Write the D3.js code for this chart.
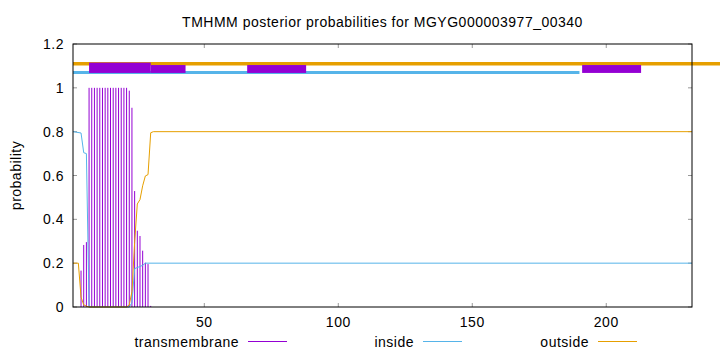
<!DOCTYPE html>
<html>
<head>
<meta charset="utf-8">
<script src="https://cdn.jsdelivr.net/npm/d3@7"></script>
<style>
  body { margin: 0; background: #fff; }
  svg text { font-family: "Liberation Sans", Arial, sans-serif; font-size: 14px; letter-spacing: 0.5px; fill: #000; }
</style>
</head>
<body>
<svg id="chart"></svg>
<script>
// Data
const title = 'TMHMM posterior probabilities for MGYG000003977_00340';
const seqLength = 232;
const xTicks = [50, 100, 150, 200];
const yTicks = [0, 0.2, 0.4, 0.6, 0.8, 1, 1.2];

// transmembrane posterior per residue (residues 1..30, rest are 0)
const tmResidues = [1, 2, 3, 4, 5, 6, 7, 8, 9, 10, 11, 12, 13, 14, 15, 16, 17, 18, 19, 20, 21, 22, 23, 24, 25, 26, 27, 28, 29, 30];
const tmValues = [0, 0, 0, 0.166, 0.283, 0.296, 1, 1, 1, 1, 1, 1, 1, 1, 1, 1, 1, 1, 1, 1, 1, 0.987, 0.909, 0.529, 0.348, 0.324, 0.257, 0.202, 0.196, 0.005];

// inside / outside curves as [residue, probability]
const insidePoints = [[1, 0.8], [4, 0.794], [5, 0.704], [6, 0.7], [7, 0], [22, 0], [23, 0.02], [24, 0.175], [25, 0.18], [26, 0.185], [27, 0.19], [28, 0.2], [232, 0.2]];
const outsidePoints = [[1, 0.2], [3, 0.2], [4, 0.045], [5, 0.01], [6, 0.004], [7, 0], [21, 0], [22, 0.01], [23, 0.07], [24, 0.295], [25, 0.47], [26, 0.49], [27, 0.553], [28, 0.598], [29, 0.604], [30, 0.795], [31, 0.8], [232, 0.8]];

// predicted topology bars at the top
const outsideBar = { from: 1, to: 232, y: 1.11 };
const insideBar = { from: 1, to: 190, y: 1.07 };
const tmBoxes = [
  { from: 7, to: 30, y0: 1.068, y1: 1.115 },
  { from: 30, to: 43, y0: 1.068, y1: 1.104 },
  { from: 66, to: 88, y0: 1.068, y1: 1.104 },
  { from: 191, to: 213, y0: 1.068, y1: 1.104 }
];

const legendItems = ['transmembrane', 'inside', 'outside'];
const colors = { transmembrane: '#9400D3', inside: '#56B4E9', outside: '#E69F00' };

const width = 720, height = 352;
const margin = { top: 44, right: 28, bottom: 45, left: 73 };
const innerW = width - margin.left - margin.right;
const innerH = height - margin.top - margin.bottom;

const xScale = d3.scaleLinear().domain([1, seqLength]).range([0, innerW]);
const yScale = d3.scaleLinear().domain([0, 1.2]).range([innerH, 0]);

const svg = d3.select('svg#chart')
    .attr('width', width)
    .attr('height', height);

const g = svg.append('g')
    .attr('transform', `translate(${margin.left}, ${margin.top})`);

// ticks drawn inward on all four sides
const tickLen = 4;
xTicks.forEach(t => {
  const x = xScale(t);
  g.append('line').attr('x1', x).attr('x2', x).attr('y1', innerH).attr('y2', innerH - tickLen)
    .attr('stroke', '#999');
  g.append('line').attr('x1', x).attr('x2', x).attr('y1', 0).attr('y2', tickLen)
    .attr('stroke', '#999');
  g.append('text').attr('x', x).attr('y', innerH + 20).attr('text-anchor', 'middle').text(t);
});
yTicks.forEach(t => {
  const y = yScale(t);
  g.append('line').attr('x1', 0).attr('x2', tickLen).attr('y1', y).attr('y2', y)
    .attr('stroke', '#999');
  g.append('line').attr('x1', innerW).attr('x2', innerW - tickLen).attr('y1', y).attr('y2', y)
    .attr('stroke', '#999');
  g.append('text').attr('x', -9).attr('y', y + 5).attr('text-anchor', 'end').text(t);
});

// transmembrane impulses
g.selectAll('line.tm')
    .data(tmResidues.map((r, i) => [r, tmValues[i]]).filter(d => d[1] > 0))
    .enter()
    .append('line')
    .attr('class', 'tm')
    .attr('x1', d => xScale(d[0]))
    .attr('x2', d => xScale(d[0]))
    .attr('y1', yScale(0))
    .attr('y2', d => yScale(d[1]))
    .attr('stroke', colors.transmembrane)
    .attr('stroke-width', 1);

const line = d3.line().x(d => xScale(d[0])).y(d => yScale(d[1]));

g.append('path').datum(insidePoints)
    .attr('d', line).attr('fill', 'none')
    .attr('stroke', colors.inside).attr('stroke-width', 1);

g.append('path').datum(outsidePoints)
    .attr('d', line).attr('fill', 'none')
    .attr('stroke', colors.outside).attr('stroke-width', 1);

// topology bars (outside bar runs past the right border like in gnuplot)
g.append('line')
    .attr('x1', xScale(outsideBar.from)).attr('x2', width - margin.left)
    .attr('y1', yScale(outsideBar.y)).attr('y2', yScale(outsideBar.y))
    .attr('stroke', colors.outside).attr('stroke-width', 3.5);

g.append('line')
    .attr('x1', xScale(insideBar.from)).attr('x2', xScale(insideBar.to))
    .attr('y1', yScale(insideBar.y)).attr('y2', yScale(insideBar.y))
    .attr('stroke', colors.inside).attr('stroke-width', 3);

g.selectAll('rect.tmbox')
    .data(tmBoxes)
    .enter()
    .append('rect')
    .attr('class', 'tmbox')
    .attr('x', d => xScale(d.from))
    .attr('y', d => yScale(d.y1))
    .attr('width', d => xScale(d.to) - xScale(d.from))
    .attr('height', d => yScale(d.y0) - yScale(d.y1))
    .attr('fill', colors.transmembrane);

// border
g.append('rect')
    .attr('x', 0).attr('y', 0)
    .attr('width', innerW).attr('height', innerH)
    .attr('fill', 'none').attr('stroke', '#000').attr('stroke-width', 1);

// title
svg.append('text')
    .attr('x', margin.left + innerW / 2)
    .attr('y', 27)
    .attr('text-anchor', 'middle')
    .text(title);

// y axis label
svg.append('text')
    .attr('transform', `translate(21, ${margin.top + innerH / 2}) rotate(-90)`)
    .attr('text-anchor', 'middle')
    .text('probability');

// legend
legendItems.forEach((name, i) => {
  const lx = 248 + i * 175;
  const ly = 341.5;
  svg.append('text')
    .attr('x', lx - 9).attr('y', ly + 5)
    .attr('text-anchor', 'end')
    .text(name);
  svg.append('line')
    .attr('x1', lx).attr('x2', lx + 39)
    .attr('y1', ly).attr('y2', ly)
    .attr('stroke', colors[name]).attr('stroke-width', 1);
});
</script>
</body>
</html>
